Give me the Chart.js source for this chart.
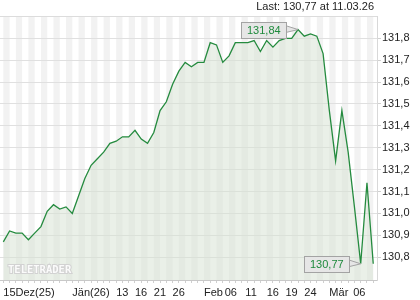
<!DOCTYPE html>
<html>
<head>
<meta charset="utf-8">
<script src="https://cdn.jsdelivr.net/npm/chart.js@4.4.1/dist/chart.umd.min.js"></script>
<style>
	html, body { margin: 0; padding: 0; background: #fff; }
	#wrap { width: 420px; height: 300px; }
</style>
</head>
<body>
<div id="wrap"><canvas id="graficoKurs" width="420" height="300"></canvas></div>
<script>
// Kursverlauf 15.12.25 - 11.03.26 (ein Wert pro Handelstag)
var kurs = [130.87, 130.92, 130.91, 130.91, 130.88, 130.91, 130.94, 131.01, 131.04, 131.02,
            131.03, 131.00, 131.08, 131.16, 131.22, 131.25, 131.28, 131.32, 131.33, 131.35,
            131.35, 131.38, 131.34, 131.32, 131.37, 131.47, 131.51, 131.59, 131.65, 131.69,
            131.67, 131.69, 131.69, 131.78, 131.77, 131.69, 131.72, 131.78, 131.78, 131.78,
            131.79, 131.74, 131.79, 131.76, 131.79, 131.80, 131.80, 131.84, 131.81, 131.82,
            131.81, 131.73, 131.47, 131.24, 131.47, 131.28, 131.03, 130.77, 131.14, 130.77];

var rotulosX = ['15Dez(25)', 'Jän(26)', '13', '16', '21', '26', 'Feb', '06', '11', '16', '19', '24', 'Mär', '06'];
var posRotulosX = [0, 11, 18, 21, 24, 27, 32, 35.3, 38.6, 42, 45, 48, 52, 55.8];

var marcasY = [130.8, 130.9, 131.0, 131.1, 131.2, 131.3, 131.4, 131.5, 131.6, 131.7, 131.8];

var ultimaData = '11.03.26';

var fonte = '"Liberation Sans", Arial, sans-serif';

function virgula(v, casas){
	return v.toFixed(casas).replace('.', ',');
}

// listras verticais + borda superior
var pluginFundo = {
	id: 'fundo',
	beforeDraw: function(chart){
		var ctx = chart.ctx, area = chart.chartArea, x = chart.scales.x;
		ctx.save();
		ctx.fillStyle = '#f2f2f2';
		for (var i = 0; i < kurs.length; i += 2) {
			var a = Math.max(x.getPixelForValue(i), area.left);
			var b = Math.min(x.getPixelForValue(i + 1), area.right);
			ctx.fillRect(a, area.top, b - a, area.bottom - area.top);
		}
		ctx.strokeStyle = '#dcdcdc';
		ctx.lineWidth = 1;
		ctx.beginPath();
		ctx.moveTo(area.left, area.top + 0.5);
		ctx.lineTo(area.right, area.top + 0.5);
		ctx.stroke();
		ctx.restore();
	}
};

function caixa(chart, idx){
	var ctx = chart.ctx;
	var px = chart.scales.x.getPixelForValue(idx);
	var py = chart.scales.y.getPixelForValue(kurs[idx]);
	var texto = virgula(kurs[idx], 2);
	ctx.font = '11px ' + fonte;
	var w = ctx.measureText(texto).width + 11, h = 16;
	var dir = px - 12, esq = dir - w, topo = Math.round(py - h / 2) + 0.5;
	esq = Math.round(esq) + 0.5; dir = esq + Math.round(w);
	ctx.fillStyle = '#e6e6e6';
	ctx.strokeStyle = '#a3a3a3';
	ctx.lineWidth = 1;
	ctx.beginPath();
	ctx.moveTo(dir - 1, py - 4);
	ctx.lineTo(px, py);
	ctx.lineTo(dir - 1, py + 3);
	ctx.closePath();
	ctx.fill();
	ctx.stroke();
	ctx.fillRect(esq, topo, dir - esq, h);
	ctx.strokeRect(esq, topo, dir - esq, h);
	ctx.fillStyle = '#1e8a3c';
	ctx.textAlign = 'left';
	ctx.textBaseline = 'middle';
	ctx.fillText(texto, esq + 5.5, topo + h / 2 + 0.5);
}

var pluginTextos = {
	id: 'textos',
	afterDraw: function(chart){
		var ctx = chart.ctx, area = chart.chartArea;
		ctx.save();
		// marca d'agua
		ctx.font = 'bold 10.5px "DejaVu Sans Mono", monospace';
		ctx.textAlign = 'left';
		ctx.textBaseline = 'middle';
		ctx.lineWidth = 2;
		ctx.strokeStyle = '#d2d2d2';
		ctx.strokeText('TELETRADER', area.left + 8, area.bottom - 10);
		ctx.fillStyle = '#fbfbfb';
		ctx.fillText('TELETRADER', area.left + 8, area.bottom - 10);

		var max = Math.max.apply(null, kurs), min = Math.min.apply(null, kurs);
		caixa(chart, kurs.indexOf(max));
		caixa(chart, kurs.indexOf(min));

		ctx.font = '11px ' + fonte;
		ctx.fillStyle = '#222';
		ctx.textAlign = 'right';
		ctx.textBaseline = 'middle';
		ctx.fillText('Last: ' + virgula(kurs[kurs.length - 1], 2) + ' at ' + ultimaData, area.right - 3, 7);
		ctx.restore();
	}
};

var pontos = kurs.map(function(v, i){ return {x: i, y: v}; });

new Chart(document.getElementById('graficoKurs').getContext('2d'), {
	type: 'line',
	data: {
		datasets: [{
			data: pontos,
			borderColor: '#258b3f',
			borderWidth: 1.3,
			backgroundColor: 'rgba(213,225,209,0.5)',
			fill: 'start',
			pointRadius: 0,
			tension: 0
		}]
	},
	options: {
		responsive: false,
		animation: false,
		devicePixelRatio: 1,
		layout: { padding: { top: 16, left: 0, right: 0, bottom: 0 } },
		plugins: { legend: { display: false }, tooltip: { enabled: false }, title: { display: false } },
		scales: {
			x: {
				type: 'linear', position: 'bottom', weight: 0,
				min: -0.53, max: 59.6,
				afterBuildTicks: function(s){ s.ticks = kurs.map(function(v, i){ return {value: i}; }); },
				afterFit: function(s){ s.height = 4; },
				ticks: { display: false },
				grid: { drawOnChartArea: false, drawTicks: true, tickLength: 3, tickColor: '#cfcfcf', tickWidth: 1 },
				border: { display: true, color: '#c8c8c8' }
			},
			xr: {
				type: 'linear', position: 'bottom', weight: 1,
				min: -0.53, max: 59.6,
				afterBuildTicks: function(s){ s.ticks = posRotulosX.map(function(p){ return {value: p}; }); },
				afterFit: function(s){ s.height = 16; },
				ticks: {
					align: 'start', autoSkip: false, maxRotation: 0, padding: 2,
					color: '#222', font: { family: fonte, size: 11 },
					callback: function(v, idx){ return rotulosX[idx]; }
				},
				grid: { display: false, drawTicks: false },
				border: { display: false }
			},
			y: {
				type: 'linear', position: 'right',
				min: 130.696, max: 131.902,
				afterBuildTicks: function(s){ s.ticks = marcasY.map(function(v){ return {value: v}; }); },
				afterFit: function(s){ s.width = 43; },
				ticks: {
					padding: 1, color: '#222', font: { family: fonte, size: 11 },
					callback: function(v){ return virgula(v, 1); }
				},
				grid: { color: '#e0e0e0', tickLength: 4, tickColor: '#d0d0d0' },
				border: { display: true, color: '#d8d8d8' }
			}
		}
	},
	plugins: [pluginFundo, pluginTextos]
});
</script>
</body>
</html>
